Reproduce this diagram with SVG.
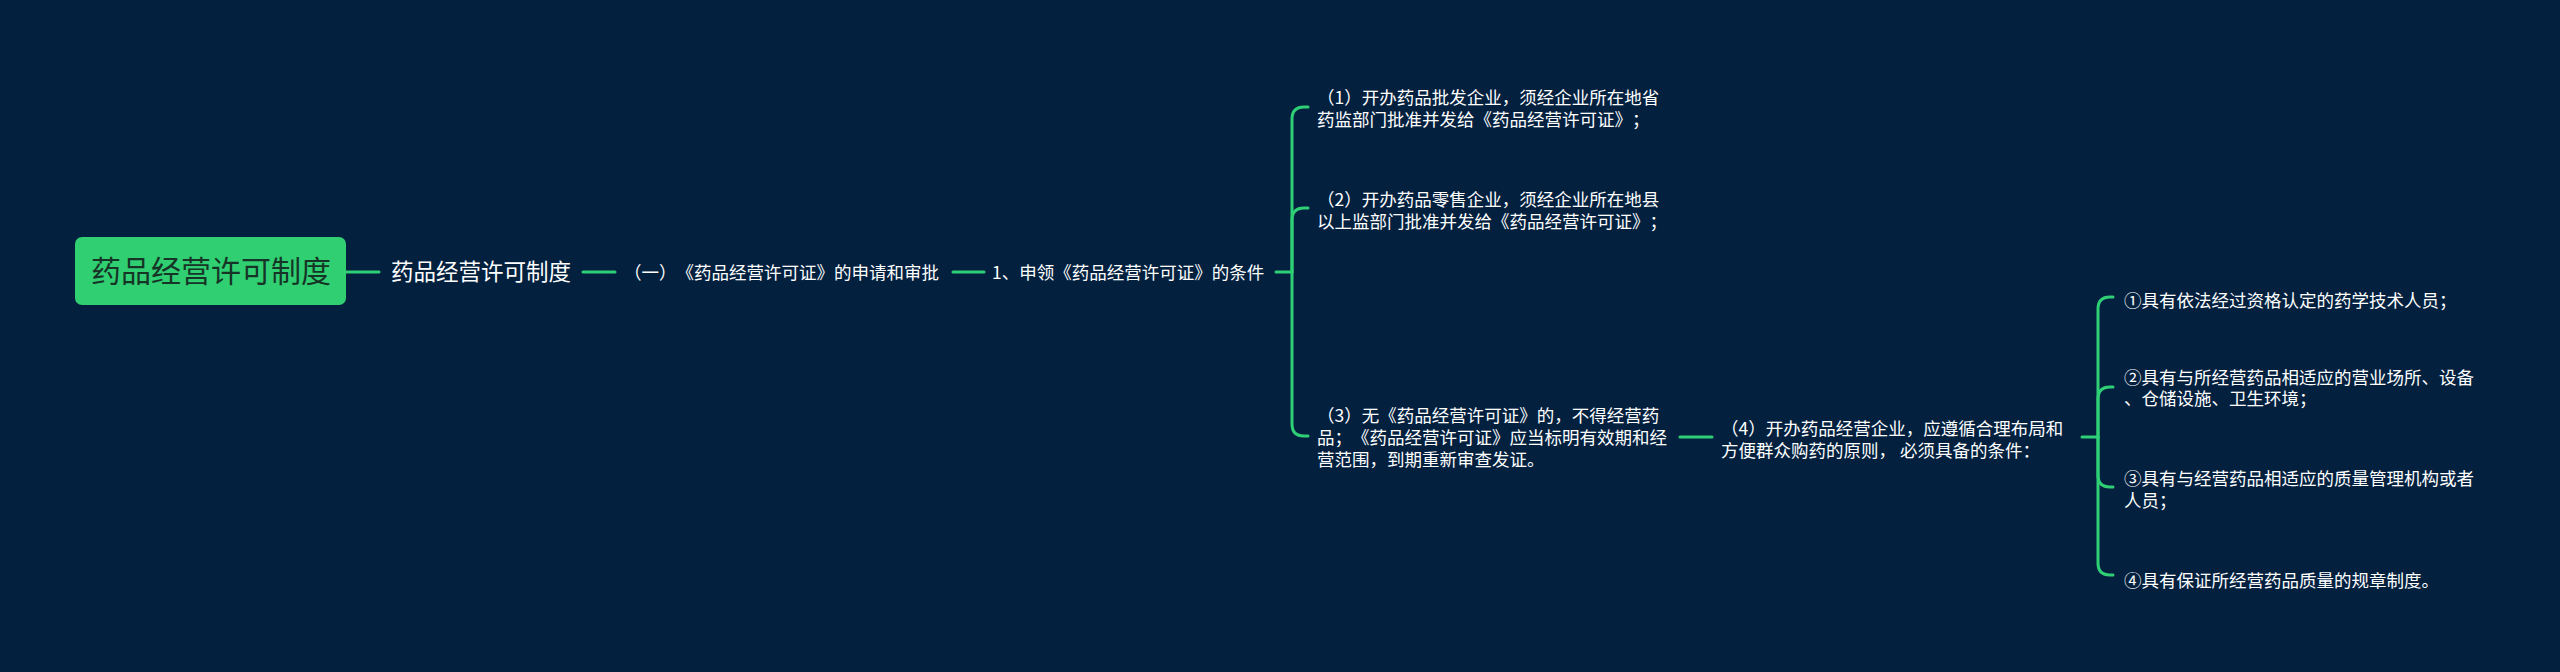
<svg xmlns="http://www.w3.org/2000/svg" width="2560" height="672" viewBox="0 0 2560 672">
<style>
.bg{fill:#03213f}
.ln{fill:none;stroke:#2fcf75;stroke-width:3;stroke-linecap:round}
.t{font-family:"Noto Sans CJK SC","Noto Sans",sans-serif;fill:#ffffff;font-size:17.5px;text-spacing-trim:space-all}
.l1{font-size:22.5px}
.rt{font-family:"Noto Sans CJK SC","Noto Sans",sans-serif;fill:#163527;font-size:30px}
</style>
<rect class="bg" x="0" y="0" width="2560" height="672"/>
<g id="connectors">
<path class="ln" d="M346 272 H379"/>
<path class="ln" d="M583 272 H615"/>
<path class="ln" d="M953 272 H984"/>
<path class="ln" d="M1276 272 H1292"/>
<path class="ln" d="M1292 272 V119 Q1292 107 1304 107 H1308"/>
<path class="ln" d="M1292 272 V220 Q1292 208 1304 208 H1308"/>
<path class="ln" d="M1292 272 V424 Q1292 436 1304 436 H1308"/>
<path class="ln" d="M1680 437 H1712"/>
<path class="ln" d="M2082 437 H2098"/>
<path class="ln" d="M2098 437 V309 Q2098 297 2110 297 H2113"/>
<path class="ln" d="M2098 437 V399 Q2098 387 2110 387 H2113"/>
<path class="ln" d="M2098 437 V475 Q2098 487 2110 487 H2113"/>
<path class="ln" d="M2098 437 V563 Q2098 575 2110 575 H2113"/>
</g>
<g id="root">
<rect x="75" y="237" width="271" height="68" rx="7" fill="#30cf72"/>
<text class="rt" x="211" y="282" text-anchor="middle">药品经营许可制度</text>
</g>
<g id="n1">
<text class="t l1" x="481" y="280" text-anchor="middle">药品经营许可制度</text>
</g>
<g id="n2">
<text class="t" x="624" y="278.5">（一）《药品经营许可证》的申请和审批</text>
</g>
<g id="n3">
<text class="t" x="992" y="278.5">1、申领《药品经营许可证》的条件</text>
</g>
<g id="n4">
<text class="t" x="1317" y="104">（1）开办药品批发企业，须经企业所在地省</text>
<text class="t" x="1317" y="125.5">药监部门批准并发给《药品经营许可证》；</text>
</g>
<g id="n5">
<text class="t" x="1317" y="205.5">（2）开办药品零售企业，须经企业所在地县</text>
<text class="t" x="1317" y="227.5">以上监部门批准并发给《药品经营许可证》；</text>
</g>
<g id="n6">
<text class="t" x="1317" y="421.5">（3）无《药品经营许可证》的，不得经营药</text>
<text class="t" x="1317" y="443.5">品；《药品经营许可证》应当标明有效期和经</text>
<text class="t" x="1317" y="465.5">营范围，到期重新审查发证。</text>
</g>
<g id="n7">
<text class="t" x="1721" y="434.5">（4）开办药品经营企业，应遵循合理布局和</text>
<text class="t" x="1721" y="456.5">方便群众购药的原则， 必须具备的条件：</text>
</g>
<g id="n8">
<text class="t" x="2124" y="306.5">①具有依法经过资格认定的药学技术人员；</text>
</g>
<g id="n9">
<text class="t" x="2124" y="383.5">②具有与所经营药品相适应的营业场所、设备</text>
<text class="t" x="2124" y="405">、仓储设施、卫生环境；</text>
</g>
<g id="n10">
<text class="t" x="2124" y="484.5">③具有与经营药品相适应的质量管理机构或者</text>
<text class="t" x="2124" y="506.5">人员；</text>
</g>
<g id="n11">
<text class="t" x="2124" y="586.5">④具有保证所经营药品质量的规章制度。</text>
</g>
</svg>
